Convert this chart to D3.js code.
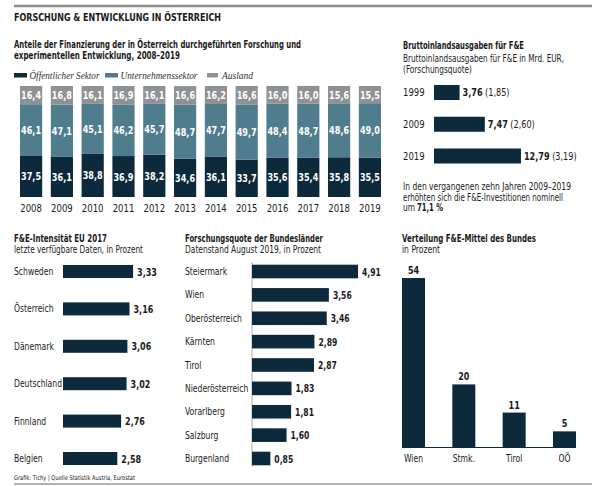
<!DOCTYPE html>
<html><head><meta charset="utf-8">
<script src="https://cdn.jsdelivr.net/npm/d3@7"></script>
<style>
body{margin:0;background:#fff;}
svg text{font-family:'DejaVu Sans Condensed','Liberation Sans',sans-serif;fill:#1a1a1a;}
</style></head><body>
<svg id="c" width="605" height="486"></svg>
<script>
// ---- data ----
const years = ["2008","2009","2010","2011","2012","2013","2014","2015","2016","2017","2018","2019"];
const oeffentlich = [37.5,36.1,38.8,36.9,38.2,34.6,36.1,33.7,35.6,35.4,35.8,35.5];
const unternehmen = [46.1,47.1,45.1,46.2,45.7,48.7,47.7,49.7,48.4,48.7,48.6,49.0];
const ausland = [16.4,16.8,16.1,16.9,16.1,16.6,16.2,16.6,16.0,16.0,15.6,15.5];
const seriesNames = ["Öffentlicher Sektor","Unternehmenssektor","Ausland"];

const biaYears = ["1999","2009","2019"];
const biaValues = [3.76,7.47,12.79];
const biaQuote = ["1,85","2,60","3,19"];

const euCountries = ["Schweden","Österreich","Dänemark","Deutschland","Finnland","Belgien"];
const euValues = [3.33,3.16,3.06,3.02,2.76,2.58];

const laender = ["Steiermark","Wien","Oberösterreich","Kärnten","Tirol","Niederösterreich","Vorarlberg","Salzburg","Burgenland"];
const laenderValues = [4.91,3.56,3.46,2.89,2.87,1.83,1.81,1.60,0.85];

const bundCats = ["Wien","Stmk.","Tirol","OÖ"];
const bundValues = [54,20,11,5];

// ---- style ----
const DARK = "#0c2a3b", TEAL = "#4f7d8d", GRAY = "#8e9295";
const colors = [DARK, TEAL, GRAY];
const fmt = v => d3.format(".2f")(v).replace(".", ",");
const fmt1 = v => d3.format(".1f")(v).replace(".", ",");
const K = 0.85; // horizontal condensation for labels

function fit(sel, w){ return sel.attr("textLength", w).attr("lengthAdjust","spacingAndGlyphs"); }
function squeeze(sel, k){
  sel.each(function(){ const L = this.getComputedTextLength(); d3.select(this).attr("textLength", L*k).attr("lengthAdjust","spacingAndGlyphs"); });
  return sel;
}

const svg = d3.select("#c");
function txt(x,y,s,size,opt={}){
  const t = svg.append("text").attr("x",x).attr("y",y).attr("font-size",size).text(s);
  if(opt.bold) t.attr("font-weight","bold");
  if(opt.w) fit(t,opt.w);
  return t;
}

// frame lines
svg.append("line").attr("x1",14).attr("x2",592).attr("y1",6).attr("y2",6).attr("stroke","#8c8c8c").attr("stroke-width",2.5);
svg.append("line").attr("x1",14).attr("x2",592).attr("y1",484).attr("y2",484).attr("stroke","#666").attr("stroke-width",1);

txt(14,20.5,"FORSCHUNG & ENTWICKLUNG IN ÖSTERREICH",10.5,{bold:true,w:207});
txt(14,480,"Grafik: Tichy | Quelle Statistik Austria, Eurostat",6.5,{w:121});

// ---- Panel 1: stacked bars ----
txt(14,47.5,"Anteile der Finanzierung der in Österreich durchgeführten Forschung und",10,{bold:true,w:287});
txt(14,58.5,"experimentellen Entwicklung, 2008–2019",10,{bold:true,w:166});

// legend
const legX = [14, 105, 207];
const legW = [70, 77, 31];
seriesNames.forEach((n,i)=>{
  svg.append("rect").attr("x",legX[i]).attr("y",73).attr("width",i===2?11:13).attr("height",4.5).attr("fill",colors[i]);
  const t = svg.append("text").attr("x",legX[i]+(i===2?15:15.5)).attr("y",78.5).attr("font-size",10).attr("font-style","italic")
    .style("font-family","'Liberation Serif','DejaVu Serif',serif").style("fill","#333").text(n);
  fit(t, legW[i]);
});

const x1 = d3.scaleBand().domain(years).range([20,381]).paddingInner(0.28).paddingOuter(0);
const y1 = d3.scaleLinear().domain([0,100]).range([197,86]);
const rows = years.map((y,i)=>({year:y, "Öffentlicher Sektor":oeffentlich[i], "Unternehmenssektor":unternehmen[i], "Ausland":ausland[i]}));
const stack = d3.stack().keys(seriesNames)(rows);
stack.forEach((layer,li)=>{
  const g = svg.append("g");
  g.selectAll("rect").data(layer).join("rect")
    .attr("x",d=>x1(d.data.year)).attr("width",x1.bandwidth())
    .attr("y",d=>y1(d[1])).attr("height",d=>y1(d[0])-y1(d[1]))
    .attr("fill",colors[li]);
  squeeze(g.selectAll("text").data(layer).join("text")
    .attr("x",d=>x1(d.data.year)+x1.bandwidth()/2).attr("y",d=>(y1(d[0])+y1(d[1]))/2+4)
    .attr("text-anchor","middle").attr("font-size",10.5).attr("font-weight","bold").style("fill","#fff")
    .text(d=>fmt1(d[1]-d[0])), 0.86);
});
squeeze(svg.append("g").selectAll("text").data(years).join("text")
  .attr("x",d=>x1(d)+x1.bandwidth()/2).attr("y",211.5).attr("text-anchor","middle").attr("font-size",10.5).text(d=>d), 0.9);

// ---- Panel 2: Bruttoinlandsausgaben ----
txt(403,48.5,"Bruttoinlandsausgaben für F&E",10,{bold:true,w:121});
txt(403,62,"Bruttoinlandsausgaben für F&E in Mrd. EUR,",10,{w:161});
txt(403,73,"(Forschungsquote)",10,{w:69});
const x2 = d3.scaleLinear().domain([0,13]).range([434,522.4]);
const y2 = d3.scalePoint().domain(biaYears).range([92.5,156]);
biaYears.forEach((yr,i)=>{
  svg.append("rect").attr("x",x2(0)).attr("y",y2(yr)-7.5).attr("width",x2(biaValues[i])-x2(0)).attr("height",15).attr("fill",DARK);
  squeeze(txt(403,y2(yr)+3.5,yr,10.5),0.9);
  const b = squeeze(txt(x2(biaValues[i])+3,y2(yr)+3.5,fmt(biaValues[i]),10.5,{bold:true}),0.86);
  const bw = +b.attr("textLength");
  squeeze(txt(x2(biaValues[i])+3+bw+2.5,y2(yr)+3.5,"("+biaQuote[i]+")",10.5),0.86);
});
txt(403,190,"In den vergangenen zehn Jahren 2009–2019",10,{w:168});
txt(403,200.5,"erhöhten sich die F&E-Investitionen nominell",10,{w:160});
txt(403,211,"um",10,{w:12});
txt(417,211,"71,1 %",10,{bold:true,w:26});

// ---- Panel 3: EU ----
txt(14,241.5,"F&E-Intensität EU 2017",10,{bold:true,w:93});
txt(14,252.5,"letzte verfügbare Daten, in Prozent",10,{w:129});
const x3 = d3.scaleLinear().domain([0,4]).range([63,63+84.2]);
const y3 = d3.scalePoint().domain(euCountries).range([271.5,458.5]);
euCountries.forEach((c,i)=>{
  svg.append("rect").attr("x",x3(0)).attr("y",y3(c)-6.5).attr("width",x3(euValues[i])-x3(0)).attr("height",13).attr("fill",DARK);
  squeeze(txt(14,y3(c)+3.5,c,10),K);
  squeeze(txt(x3(euValues[i])+4,y3(c)+4,fmt(euValues[i]),10.5,{bold:true}),K);
});

// ---- Panel 4: Bundesländer ----
txt(185,241.5,"Forschungsquote der Bundesländer",10,{bold:true,w:138});
txt(185,252.5,"Datenstand August 2019, in Prozent",10,{w:136});
const x4 = d3.scaleLinear().domain([0,5]).range([252,252+108]);
const y4 = d3.scalePoint().domain(laender).range([271.5,458.5]);
svg.append("line").attr("x1",x4(0)).attr("x2",x4(0)).attr("y1",262).attr("y2",467).attr("stroke","#9a9a9a").attr("stroke-width",0.8);
laender.forEach((c,i)=>{
  svg.append("rect").attr("x",x4(0)).attr("y",y4(c)-6.8).attr("width",x4(laenderValues[i])-x4(0)).attr("height",13.6).attr("fill",DARK);
  squeeze(txt(185,y4(c)+3.5,c,10),K);
  squeeze(txt(x4(laenderValues[i])+4,y4(c)+4,fmt(laenderValues[i]),10,{bold:true}),K);
});

// ---- Panel 5: Bund ----
txt(402,241.5,"Verteilung F&E-Mittel des Bundes",10,{bold:true,w:134});
txt(402,252.5,"in Prozent",10,{w:38});
const x5 = d3.scaleBand().domain(bundCats).range([402,576]).paddingInner(0.543).paddingOuter(0);
const y5 = d3.scaleLinear().domain([0,54]).range([447,278]);
svg.append("g").selectAll("rect").data(bundCats).join("rect")
  .attr("x",d=>x5(d)).attr("width",x5.bandwidth())
  .attr("y",(d,i)=>y5(bundValues[i])).attr("height",(d,i)=>y5(0)-y5(bundValues[i])).attr("fill",DARK);
svg.append("line").attr("x1",402).attr("x2",576).attr("y1",447.5).attr("y2",447.5).attr("stroke",DARK).attr("stroke-width",1);
squeeze(svg.append("g").selectAll("text").data(bundCats).join("text")
  .attr("x",d=>x5(d)+x5.bandwidth()/2).attr("y",(d,i)=>y5(bundValues[i])-4).attr("text-anchor","middle")
  .attr("font-size",10.5).attr("font-weight","bold").text((d,i)=>bundValues[i]),K);
squeeze(svg.append("g").selectAll("text.cat").data(bundCats).join("text")
  .attr("x",d=>x5(d)+x5.bandwidth()/2).attr("y",461.5).attr("text-anchor","middle").attr("font-size",10).text(d=>d),K);
</script></body></html>
